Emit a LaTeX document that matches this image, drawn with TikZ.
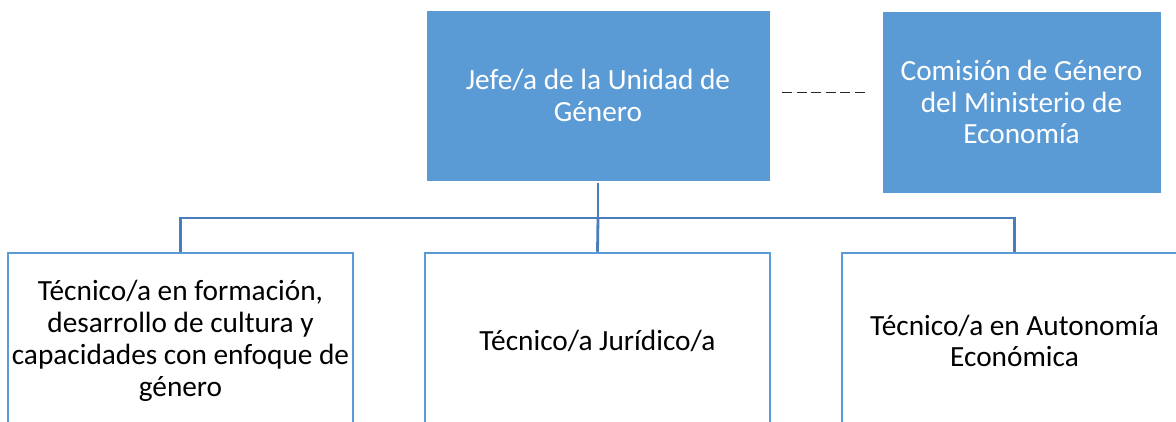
\documentclass[tikz,border=0pt]{standalone}
\usepackage{fontspec}
\setmainfont{Carlito}
\definecolor{boxblue}{HTML}{5B9BD5}
\definecolor{linkblue}{HTML}{4A7EBB}
\begin{document}
\begin{tikzpicture}[x=1pt,y=-1pt,
  boxtext/.style={font=\fontsize{29.3}{31.8}\selectfont, align=center, inner sep=0pt},
  topbox/.style={boxtext, rectangle, fill=boxblue, draw=boxblue, line width=1pt, text=white},
  lowbox/.style={boxtext, rectangle, draw=boxblue, line width=2.5pt, fill=white, text=black},
  conn/.style={draw=linkblue, line width=2.8pt},
  dashlink/.style={draw=black!85, line width=1pt, dash pattern=on 10pt off 4.5pt}]
\useasboundingbox (0,0) rectangle (1176,421);
% top boxes
\node[topbox, minimum width=342pt, minimum height=169pt] (head) at (598,95.5)
  {Jefe/a de la Unidad de\\Género};
\node[topbox, minimum width=277pt, minimum height=180pt] (com) at (1021.5,102)
  {Comisión de Género\\del Ministerio de\\Economía};
% dashed relation
\coordinate (dA) at (782,92);
\coordinate (dB) at (866,92);
\draw[dashlink] (dA) -- (dB);
% lower boxes
\node[lowbox, minimum width=345pt, minimum height=176pt] (t1) at (180.5,341)
  {Técnico/a en formación,\\desarrollo de cultura y\\capacidades con enfoque de\\género};
\node[lowbox, minimum width=345pt, minimum height=176pt] (t2) at (597.5,341)
  {Técnico/a Jurídico/a};
\node[lowbox, minimum width=345pt, minimum height=176pt] (t3) at (1014.5,341)
  {Técnico/a en Autonomía\\Económica};
% connectors
\coordinate (bus) at (598,218);
\draw[conn] ([yshift=-2pt]head.south) -- (bus);
\draw[conn] (bus) -| (t1.north);
\draw[conn] (bus) -| (t3.north);
\draw[conn] (bus) -- (t2.north);
\end{tikzpicture}
\end{document}
